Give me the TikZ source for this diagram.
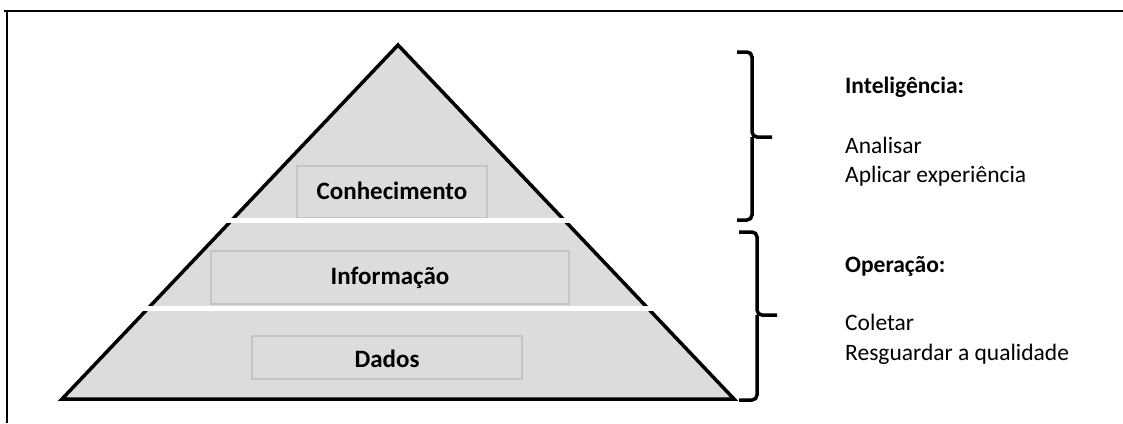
\documentclass[tikz,border=0pt]{standalone}
\usepackage{fontspec}
\setmainfont{Carlito}
\usepackage{xcolor}
\usepackage{tikz}
\usetikzlibrary{calc}

\definecolor{layergray}{HTML}{DCDCDC}
\definecolor{boxgray}{HTML}{C4C4C4}

\begin{document}
\begin{tikzpicture}[x=1pt, y=-1pt]
		% Define styles for the layers, labels and braces
		\tikzstyle{layer} = [rectangle, draw=boxgray, line width=1.3pt, fill=layergray, inner sep=0pt]
		\tikzstyle{label} = [font=\bfseries\fontsize{25}{30}\selectfont, anchor=base, inner sep=0pt]
		\tikzstyle{note} = [font=\fontsize{23.5}{28}\selectfont, anchor=base west, inner sep=0pt]
		\tikzstyle{brace} = [line width=3.5pt, rounded corners=5pt]
		\tikzstyle{cut} = [white, line width=5pt]

		\useasboundingbox (0,0) rectangle (1123,423);

		% Frame
		\draw [line width=2.2pt] (4,11) -- (1123,11);
		\draw [line width=2.2pt] (7,11) -- (7,423);

		% Define the pyramid
		\coordinate (apex) at (398,45);
		\coordinate (bl) at (62,399);
		\coordinate (br) at (734,399);
		\draw [fill=layergray, line width=3.5pt] (bl) -- (apex) -- (br) -- cycle;

		% Define the boxes inside the pyramid
		\node (conbox) [layer, minimum width=190, minimum height=52] at (392,192) {};
		\node (infbox) [layer, minimum width=358, minimum height=53] at (390,277.5) {};
		\node (dadbox) [layer, minimum width=270, minimum height=43] at (387,357.5) {};

		\node (con) [label] at (392,199) {Conhecimento};
		\node (inf) [label] at (390,284) {Informação};
		\node (dad) [label] at (387,367) {Dados};

		% White cuts between the layers
		\coordinate (cutAL) at ($(apex)!0.497!(bl)$);
		\coordinate (cutAR) at ($(apex)!0.497!(br)$);
		\coordinate (cutBL) at ($(apex)!0.743!(bl)$);
		\coordinate (cutBR) at ($(apex)!0.743!(br)$);
		\draw [cut] ([xshift=-5pt]cutAL) -- ([xshift=5pt]cutAR);
		\draw [cut] ([xshift=-5pt]cutBL) -- ([xshift=5pt]cutBR);

		% Braces
		\coordinate (ubtop) at (737,52);
		\coordinate (ubmid) at (752,137);
		\coordinate (ubtip) at (772,137);
		\coordinate (ubbot) at (737,220);
		\draw [brace] (ubtop) -| (ubmid) -- (ubtip);
		\draw [brace] (ubmid) |- (ubbot);

		\coordinate (lbtop) at (739,232);
		\coordinate (lbmid) at (757,315);
		\coordinate (lbtip) at (777,315);
		\coordinate (lbbot) at (739,400);
		\draw [brace] (lbtop) -| (lbmid) -- (lbtip);
		\draw [brace] (lbmid) |- (lbbot);

		% Notes
		\node (intel) [note, font=\bfseries\fontsize{23.5}{28}\selectfont] at (845,93) {Inteligência:};
		\node (anal) [note] at (845,153) {Analisar};
		\node (apli) [note] at (845,182) {Aplicar experiência};
		\node (oper) [note, font=\bfseries\fontsize{23.5}{28}\selectfont] at (845,272) {Operação:};
		\node (colet) [note] at (845,330) {Coletar};
		\node (resg) [note] at (845,360) {Resguardar a qualidade};
	\end{tikzpicture}
\end{document}
